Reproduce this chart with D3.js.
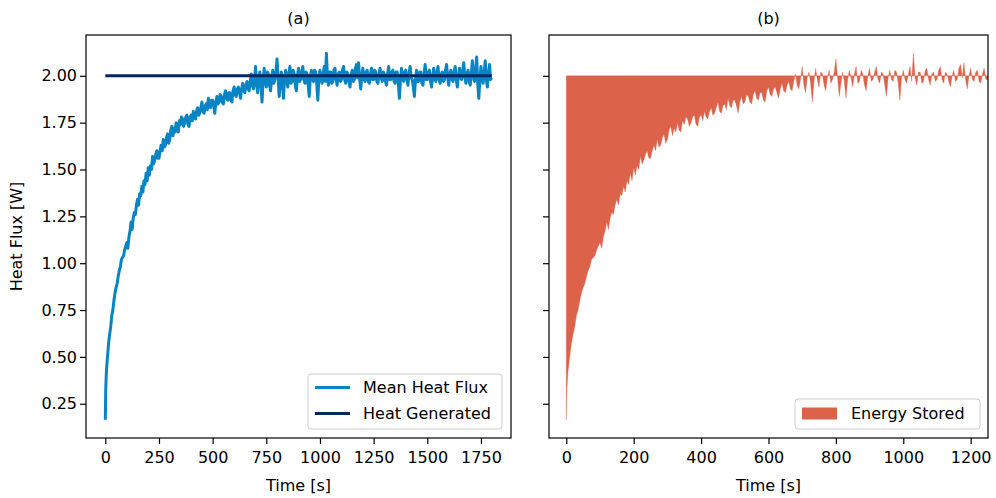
<!DOCTYPE html>
<html>
<head>
<meta charset="utf-8">
<script src="https://cdn.jsdelivr.net/npm/d3@7"></script>
<style>
    body { margin: 0; background: #fff; }
    text { font-family: "DejaVu Sans", sans-serif; fill: #000; }
</style>
</head>
<body>
<svg id="chart" width="996" height="498"></svg>
<script>

// sample times [s]
var time = [0, 2, 5, 10, 15, 20, 25, 30, 35, 40, 45, 50, 55, 60, 65, 70, 75, 80, 85, 90, 95,
    100, 105, 110, 115, 120, 125, 130, 135, 140, 145, 150, 155, 160, 165, 170, 175, 180, 185, 190, 195,
    200, 205, 210, 215, 220, 225, 230, 235, 240, 245, 250, 255, 260, 265, 270, 275, 280, 285, 290, 295,
    300, 305, 310, 315, 320, 325, 330, 335, 340, 345, 350, 355, 360, 365, 370, 375, 380, 385, 390, 395,
    400, 405, 410, 415, 420, 425, 430, 435, 440, 445, 450, 455, 460, 465, 470, 475, 480, 485, 490, 495,
    500, 505, 510, 515, 520, 525, 530, 535, 540, 545, 550, 555, 560, 565, 570, 575, 580, 585, 590, 595,
    600, 605, 610, 615, 620, 625, 630, 635, 640, 645, 650, 655, 660, 665, 670, 675, 680, 685, 690, 695,
    700, 705, 710, 715, 720, 725, 730, 735, 740, 745, 750, 755, 760, 765, 770, 775, 780, 785, 790, 795,
    800, 805, 810, 815, 820, 825, 830, 835, 840, 845, 850, 855, 860, 865, 870, 875, 880, 885, 890, 895,
    900, 905, 910, 915, 920, 925, 930, 935, 940, 945, 950, 955, 960, 965, 970, 975, 980, 985, 990, 995,
    1000, 1005, 1010, 1015, 1020, 1025, 1030, 1035, 1040, 1045, 1050, 1055, 1060, 1065, 1070, 1075, 1080, 1085, 1090, 1095,
    1100, 1105, 1110, 1115, 1120, 1125, 1130, 1135, 1140, 1145, 1150, 1155, 1160, 1165, 1170, 1175, 1180, 1185, 1190, 1195,
    1200, 1205, 1210, 1215, 1220, 1225, 1230, 1235, 1240, 1245, 1250, 1255, 1260, 1265, 1270, 1275, 1280, 1285, 1290, 1295,
    1300, 1305, 1310, 1315, 1320, 1325, 1330, 1335, 1340, 1345, 1350, 1355, 1360, 1365, 1370, 1375, 1380, 1385, 1390, 1395,
    1400, 1405, 1410, 1415, 1420, 1425, 1430, 1435, 1440, 1445, 1450, 1455, 1460, 1465, 1470, 1475, 1480, 1485, 1490, 1495,
    1500, 1505, 1510, 1515, 1520, 1525, 1530, 1535, 1540, 1545, 1550, 1555, 1560, 1565, 1570, 1575, 1580, 1585, 1590, 1595,
    1600, 1605, 1610, 1615, 1620, 1625, 1630, 1635, 1640, 1645, 1650, 1655, 1660, 1665, 1670, 1675, 1680, 1685, 1690, 1695,
    1700, 1705, 1710, 1715, 1720, 1725, 1730, 1735, 1740, 1745, 1750, 1755, 1760, 1765, 1770, 1775, 1780, 1785, 1790, 1795,
    1800];

// mean heat flux [W]
var meanHeatFlux = [0.165, 0.33, 0.42, 0.50, 0.57, 0.62, 0.66, 0.72, 0.75, 0.80, 0.84, 0.87, 0.89, 0.93, 0.96, 0.98, 1.02, 1.03, 1.04, 1.07, 1.09,
    1.11, 1.08, 1.14, 1.17, 1.22, 1.18, 1.24, 1.27, 1.26, 1.31, 1.34, 1.31, 1.37, 1.36, 1.41, 1.38, 1.44, 1.42, 1.48, 1.44,
    1.51, 1.47, 1.52, 1.50, 1.57, 1.53, 1.55, 1.58, 1.60, 1.56, 1.56, 1.60, 1.63, 1.60, 1.66, 1.62, 1.63, 1.67, 1.69, 1.64,
    1.66, 1.71, 1.73, 1.68, 1.72, 1.70, 1.75, 1.71, 1.70, 1.76, 1.74, 1.78, 1.77, 1.73, 1.75, 1.78, 1.79, 1.74, 1.73, 1.78,
    1.79, 1.76, 1.81, 1.78, 1.77, 1.81, 1.83, 1.79, 1.80, 1.83, 1.86, 1.81, 1.80, 1.84, 1.85, 1.82, 1.88, 1.84, 1.83, 1.87,
    1.87, 1.84, 1.80, 1.86, 1.89, 1.85, 1.86, 1.90, 1.89, 1.86, 1.85, 1.90, 1.92, 1.88, 1.87, 1.91, 1.91, 1.87, 1.86, 1.92,
    1.94, 1.90, 1.89, 1.93, 1.94, 1.91, 1.88, 1.93, 1.96, 1.92, 1.91, 1.95, 1.97, 1.93, 1.92, 1.97, 2.01, 1.95, 1.93, 1.98,
    2.05, 1.95, 1.91, 1.99, 2.02, 1.96, 1.86, 1.97, 2.04, 1.98, 1.94, 2.02, 2.01, 1.95, 1.92, 1.99, 2.03, 1.96, 1.98, 2.02,
    2.09, 1.99, 1.89, 1.96, 2.02, 1.97, 1.88, 1.98, 2.03, 1.99, 1.94, 2.01, 2.05, 1.96, 1.97, 2.03, 2.01, 1.95, 1.92, 2.00,
    2.04, 1.97, 1.98, 2.02, 2.05, 1.98, 1.96, 2.02, 2.01, 1.95, 1.89, 1.99, 2.03, 1.98, 1.97, 2.03, 2.02, 1.96, 1.87, 1.99,
    2.03, 1.98, 1.96, 2.01, 2.05, 1.97, 2.12, 1.99, 1.95, 2.02, 2.02, 1.96, 1.97, 2.03, 2.04, 1.98, 1.95, 2.01, 2.02, 1.97,
    1.98, 2.03, 2.05, 1.98, 1.96, 2.02, 2.01, 1.97, 1.94, 2.00, 2.03, 1.97, 1.98, 2.04, 2.06, 1.99, 2.07, 1.98, 1.93, 2.00,
    2.04, 1.98, 1.97, 2.02, 2.03, 1.97, 1.96, 2.01, 2.04, 1.98, 1.98, 2.03, 2.02, 1.97, 1.96, 2.01, 2.04, 1.99, 1.97, 2.02,
    2.01, 1.97, 1.95, 2.01, 2.05, 1.98, 1.98, 2.02, 2.03, 1.97, 1.96, 2.02, 2.02, 1.96, 1.88, 1.98, 2.04, 1.99, 1.97, 2.02,
    2.03, 1.98, 1.95, 2.01, 2.05, 1.99, 1.98, 1.94, 1.89, 1.98, 2.03, 1.97, 1.97, 2.02, 2.02, 1.96, 1.95, 2.01, 2.06, 1.98,
    1.98, 2.02, 2.03, 1.97, 1.94, 2.00, 2.04, 1.98, 1.97, 2.02, 2.05, 1.98, 1.96, 2.01, 2.02, 1.97, 1.98, 2.03, 2.06, 1.99,
    1.95, 2.01, 2.03, 1.98, 1.97, 2.02, 2.05, 1.98, 1.94, 2.00, 2.04, 1.99, 1.98, 2.03, 2.07, 1.99, 1.96, 2.01, 2.03, 1.97,
    1.95, 2.01, 2.08, 1.99, 1.97, 2.03, 2.10, 1.96, 1.88, 1.98, 2.05, 1.99, 1.96, 2.02, 2.08, 1.98, 1.94, 2.01, 2.06, 1.98,
    1.99];

// heat generated [W]
var genTime = [0, 1800];
var heatGenerated = [2.0, 2.0];

var yTicks = [0.25, 0.50, 0.75, 1.00, 1.25, 1.50, 1.75, 2.00];
var xTicksA = [0, 250, 500, 750, 1000, 1250, 1500, 1750];
var xTicksB = [0, 200, 400, 600, 800, 1000, 1200];

var blue = "#0784c3";
var navy = "#02285e";
var orange = "#dc634a";
var fontSize = "16px";

var svg = d3.select("#chart");

var plotTop = 35, plotBottom = 438;

var y = d3.scaleLinear().domain([0.0672, 2.2178]).range([plotBottom, plotTop]);

var xa = d3.scaleLinear().domain([-90, 1890]).range([86, 511]);
var xb = d3.scaleLinear().domain([-51.3, 1251.4]).range([549, 988]);

var fluxData = time.map(function (t, i) { return [t, meanHeatFlux[i]]; });
var genData = genTime.map(function (t, i) { return [t, heatGenerated[i]]; });

function drawAxes(x, xTicks, showYLabels, title) {
    var x0 = x.range()[0], x1 = x.range()[1];

    var gx = svg.append("g")
        .attr("transform", "translate(0," + plotBottom + ")")
        .call(d3.axisBottom(x).tickValues(xTicks).tickSize(6).tickPadding(8).tickFormat(d3.format("d")));
    gx.select(".domain").remove();

    var gy = svg.append("g")
        .attr("transform", "translate(" + x0 + ",0)")
        .call(d3.axisLeft(y).tickValues(yTicks).tickSize(6).tickPadding(3)
            .tickFormat(showYLabels ? d3.format(".2f") : function () { return ""; }));
    gy.select(".domain").remove();

    svg.selectAll(".tick line").attr("stroke", "#000").attr("stroke-width", 1.2);
    svg.selectAll(".tick text")
        .style("font-family", "DejaVu Sans")
        .style("font-size", fontSize)
        .attr("fill", "#000");

    svg.append("rect")
        .attr("x", x0).attr("y", plotTop)
        .attr("width", x1 - x0).attr("height", plotBottom - plotTop)
        .attr("fill", "none")
        .attr("stroke", "#000")
        .attr("stroke-width", 1.2);

    svg.append("text")
        .attr("x", (x0 + x1) / 2).attr("y", 24)
        .attr("text-anchor", "middle")
        .style("font-size", fontSize)
        .text(title);

    svg.append("text")
        .attr("x", (x0 + x1) / 2).attr("y", 491)
        .attr("text-anchor", "middle")
        .style("font-size", fontSize)
        .text("Time [s]");
}

// clip regions
var defs = svg.append("defs");
defs.append("clipPath").attr("id", "clipA").append("rect")
    .attr("x", 86).attr("y", plotTop).attr("width", 511 - 86).attr("height", plotBottom - plotTop);
defs.append("clipPath").attr("id", "clipB").append("rect")
    .attr("x", 549).attr("y", plotTop).attr("width", 988 - 549).attr("height", plotBottom - plotTop);

// ---- panel (a)
var lineA = d3.line()
    .x(function (d) { return xa(d[0]); })
    .y(function (d) { return y(d[1]); });

var plotA = svg.append("g").attr("clip-path", "url(#clipA)");

plotA.append("path")
    .datum(fluxData)
    .attr("fill", "none")
    .attr("stroke", blue)
    .attr("stroke-width", 3)
    .attr("stroke-linejoin", "round")
    .attr("d", lineA);

plotA.append("path")
    .datum(genData)
    .attr("fill", "none")
    .attr("stroke", navy)
    .attr("stroke-width", 3)
    .attr("d", lineA);

drawAxes(xa, xTicksA, true, "(a)");

svg.append("text")
    .attr("transform", "translate(22," + (plotTop + plotBottom) / 2 + ") rotate(-90)")
    .attr("text-anchor", "middle")
    .style("font-size", fontSize)
    .text("Heat Flux [W]");

// legend (a)
var legA = svg.append("g").attr("transform", "translate(308,374)");
legA.append("rect")
    .attr("width", 194).attr("height", 55).attr("rx", 3)
    .attr("fill", "#fff").attr("fill-opacity", 0.8)
    .attr("stroke", "#ccc").attr("stroke-width", 1);
[["Mean Heat Flux", blue], ["Heat Generated", navy]].forEach(function (item, i) {
    var cy = 13.5 + i * 26;
    legA.append("line")
        .attr("x1", 7).attr("x2", 42).attr("y1", cy).attr("y2", cy)
        .attr("stroke", item[1]).attr("stroke-width", 3);
    legA.append("text")
        .attr("x", 55).attr("y", cy + 5.5)
        .style("font-size", fontSize)
        .text(item[0]);
});

// ---- panel (b)
var areaB = d3.area()
    .x(function (d) { return xb(d[0]); })
    .y0(function () { return y(heatGenerated[0]); })
    .y1(function (d) { return y(d[1]); });

var plotB = svg.append("g").attr("clip-path", "url(#clipB)");

plotB.append("path")
    .datum(fluxData)
    .attr("fill", orange)
    .attr("stroke", orange)
    .attr("stroke-width", 0.6)
    .attr("stroke-opacity", 0.6)
    .attr("d", areaB);

drawAxes(xb, xTicksB, false, "(b)");

// legend (b)
var legB = svg.append("g").attr("transform", "translate(795,399)");
legB.append("rect")
    .attr("width", 185).attr("height", 30).attr("rx", 3)
    .attr("fill", "#fff").attr("fill-opacity", 0.8)
    .attr("stroke", "#ccc").attr("stroke-width", 1);
legB.append("rect")
    .attr("x", 7).attr("y", 8.5).attr("width", 35).attr("height", 12)
    .attr("fill", orange);
legB.append("text")
    .attr("x", 56).attr("y", 20)
    .style("font-size", fontSize)
    .text("Energy Stored");

</script>
</body>
</html>
